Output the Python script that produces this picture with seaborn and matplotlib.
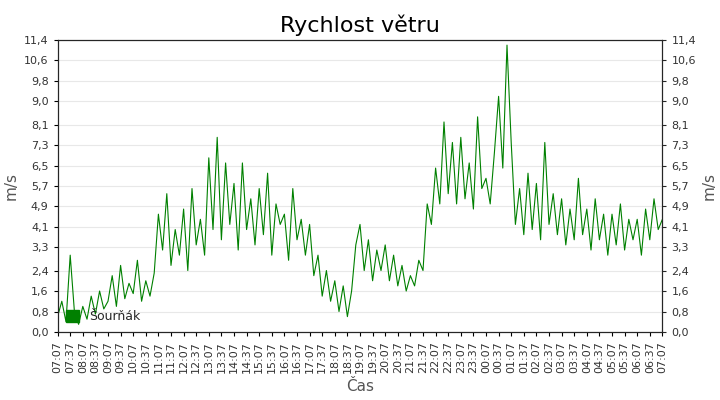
import numpy as np
import pandas as pd
import matplotlib.pyplot as plt
import seaborn as sns
from matplotlib.patches import Patch

# wind speed, one value every 10 minutes from 07:07 to 07:07 next day
speed = [
    0.6, 1.2, 0.4, 3.0, 0.8, 0.3,
    1.0, 0.5, 1.4, 0.7, 1.6, 0.9,
    1.2, 2.2, 1.0, 2.6, 1.3, 1.9,
    1.5, 2.8, 1.2, 2.0, 1.4, 2.3,
    4.6, 3.2, 5.4, 2.6, 4.0, 3.0,
    4.8, 2.4, 5.6, 3.4, 4.4, 3.0,
    6.8, 4.0, 7.6, 3.6, 6.6, 4.2,
    5.8, 3.2, 6.6, 4.0, 5.2, 3.4,
    5.6, 3.8, 6.2, 3.0, 5.0, 4.2,
    4.6, 2.8, 5.6, 3.6, 4.4, 3.0,
    4.2, 2.2, 3.0, 1.4, 2.4, 1.2,
    2.0, 0.8, 1.8, 0.6, 1.6, 3.4,
    4.2, 2.4, 3.6, 2.0, 3.2, 2.4,
    3.4, 2.0, 3.0, 1.8, 2.6, 1.6,
    2.2, 1.8, 2.8, 2.4, 5.0, 4.2,
    6.4, 5.0, 8.2, 5.4, 7.4, 5.0,
    7.6, 5.2, 6.6, 4.8, 8.4, 5.6,
    6.0, 5.0, 7.0, 9.2, 6.4, 11.2,
    7.4, 4.2, 5.6, 3.8, 6.2, 4.0,
    5.8, 3.6, 7.4, 4.2, 5.4, 3.8,
    5.2, 3.4, 4.8, 3.6, 6.0, 3.8,
    4.8, 3.2, 5.2, 3.6, 4.6, 3.0,
    4.6, 3.4, 5.0, 3.2, 4.4, 3.6,
    4.4, 3.0, 4.8, 3.6, 5.2, 4.0,
    4.4,
]
minutes = list(range(0, 10 * len(speed), 10))
y_ticks = [0.0, 0.8, 1.6, 2.4, 3.3, 4.1, 4.9, 5.7, 6.5, 7.3, 8.1, 9.0, 9.8, 10.6, 11.4]

df = pd.DataFrame({"min": minutes, "speed": speed})

sns.set_style("white")
plt.rcParams["font.family"] = ["DejaVu Sans"]
fig, ax = plt.subplots(figsize=(7.2, 4), dpi=100)
sns.lineplot(data=df, x="min", y="speed", color="#008000", lw=0.8, ax=ax, legend=False)

start = pd.Timestamp("2020-01-01 07:07")
xt = list(range(0, 24 * 60 + 1, 30))
ax.set_xticks(xt)
ax.set_xticklabels([(start + pd.Timedelta(minutes=m)).strftime("%H:%M") for m in xt],
                   rotation=90, fontsize=8, color="#333333")
ax.set_xlim(0, 24 * 60)
ax.set_ylim(0, 11.4)
ax.set_yticks(y_ticks)
lbls = [f"{v:.1f}".replace(".", ",") for v in y_ticks]
ax.set_yticklabels(lbls, fontsize=8, color="#333333")
ax.yaxis.grid(True, color="#e8e8e8", lw=0.8)
ax.tick_params(axis="both", length=3, color="black", direction="out", bottom=True, left=True)
for s in ax.spines.values():
    s.set_color("black")
ax.set_xlabel("Čas", fontsize=11, color="#555555")
ax.set_ylabel("m/s", fontsize=11, color="#555555")
ax.set_title("Rychlost větru", fontsize=16, color="black")

ax2 = ax.twinx()
ax2.set_ylim(0, 11.4)
ax2.set_yticks(y_ticks)
ax2.set_yticklabels(lbls, fontsize=8, color="#333333")
ax2.set_ylabel("m/s", fontsize=11, color="#555555")
ax2.tick_params(axis="y", length=3, right=True, direction="out")

ax.legend(handles=[Patch(color="#008000", label="Šourňák")], loc="lower left", frameon=False,
          fontsize=9, handlelength=1.0, handleheight=1.0, borderaxespad=0.3)

plt.subplots_adjust(left=0.08, right=0.92, top=0.9, bottom=0.17)
plt.savefig("out.png")
plt.close()
